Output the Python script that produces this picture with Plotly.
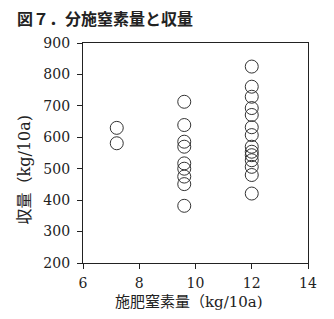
import plotly.graph_objects as go

nitrogen = [7.2, 7.2,
            9.6, 9.6, 9.6, 9.6, 9.6, 9.6, 9.6, 9.6, 9.6,
            12, 12, 12, 12, 12, 12, 12, 12, 12, 12, 12, 12, 12, 12]
yield_kg = [630, 581,
            713, 639, 586, 570, 517, 500, 475, 451, 382,
            825, 761, 729, 693, 671, 632, 607, 570, 554, 543, 527, 506, 480, 421]

x_ticks = [6, 8, 10, 12, 14]
y_ticks = [200, 300, 400, 500, 600, 700, 800, 900]

title_text = "図７．分施窒素量と収量"
x_title = "施肥窒素量（kg/10a)"
y_title = "収量（kg/10a)"

serif = "DejaVu Serif, Liberation Serif, Noto Sans CJK JP"

fig = go.Figure(go.Scatter(
    x=nitrogen, y=yield_kg, mode="markers",
    marker=dict(symbol="circle-open", size=13, color="#333333", line=dict(width=1)),
))

axis_common = dict(showline=True, mirror=True, linecolor="#222222", linewidth=1.3,
                   ticks="outside", ticklen=5, tickcolor="#222222", tickwidth=1.3,
                   showgrid=False, zeroline=False,
                   tickfont=dict(family=serif, size=14, color="#222222"))

fig.update_layout(
    width=334, height=319,
    margin=dict(l=83, r=26, t=43, b=56),
    paper_bgcolor="white", plot_bgcolor="white",
    showlegend=False,
    xaxis=dict(range=[6, 14], tickvals=x_ticks, ticklabelstandoff=2, **axis_common),
    yaxis=dict(range=[200, 900], tickvals=y_ticks, ticklabelstandoff=4, **axis_common),
    annotations=[
        dict(text="<b>" + title_text + "</b>", xref="paper", yref="paper",
             x=-0.303, y=1.112, xanchor="left", yanchor="middle", showarrow=False,
             font=dict(family="Noto Sans CJK JP", size=16, color="#222222")),
        dict(text=x_title, xref="paper", yref="paper", x=0.47, y=-0.175,
             xanchor="center", yanchor="middle", showarrow=False,
             font=dict(family=serif, size=15, color="#222222")),
        dict(text=y_title, xref="paper", yref="paper", x=-0.26, y=0.423,
             xanchor="center", yanchor="middle", textangle=-90, showarrow=False,
             font=dict(family=serif, size=16, color="#222222")),
    ],
)

fig.write_html("out.html")
